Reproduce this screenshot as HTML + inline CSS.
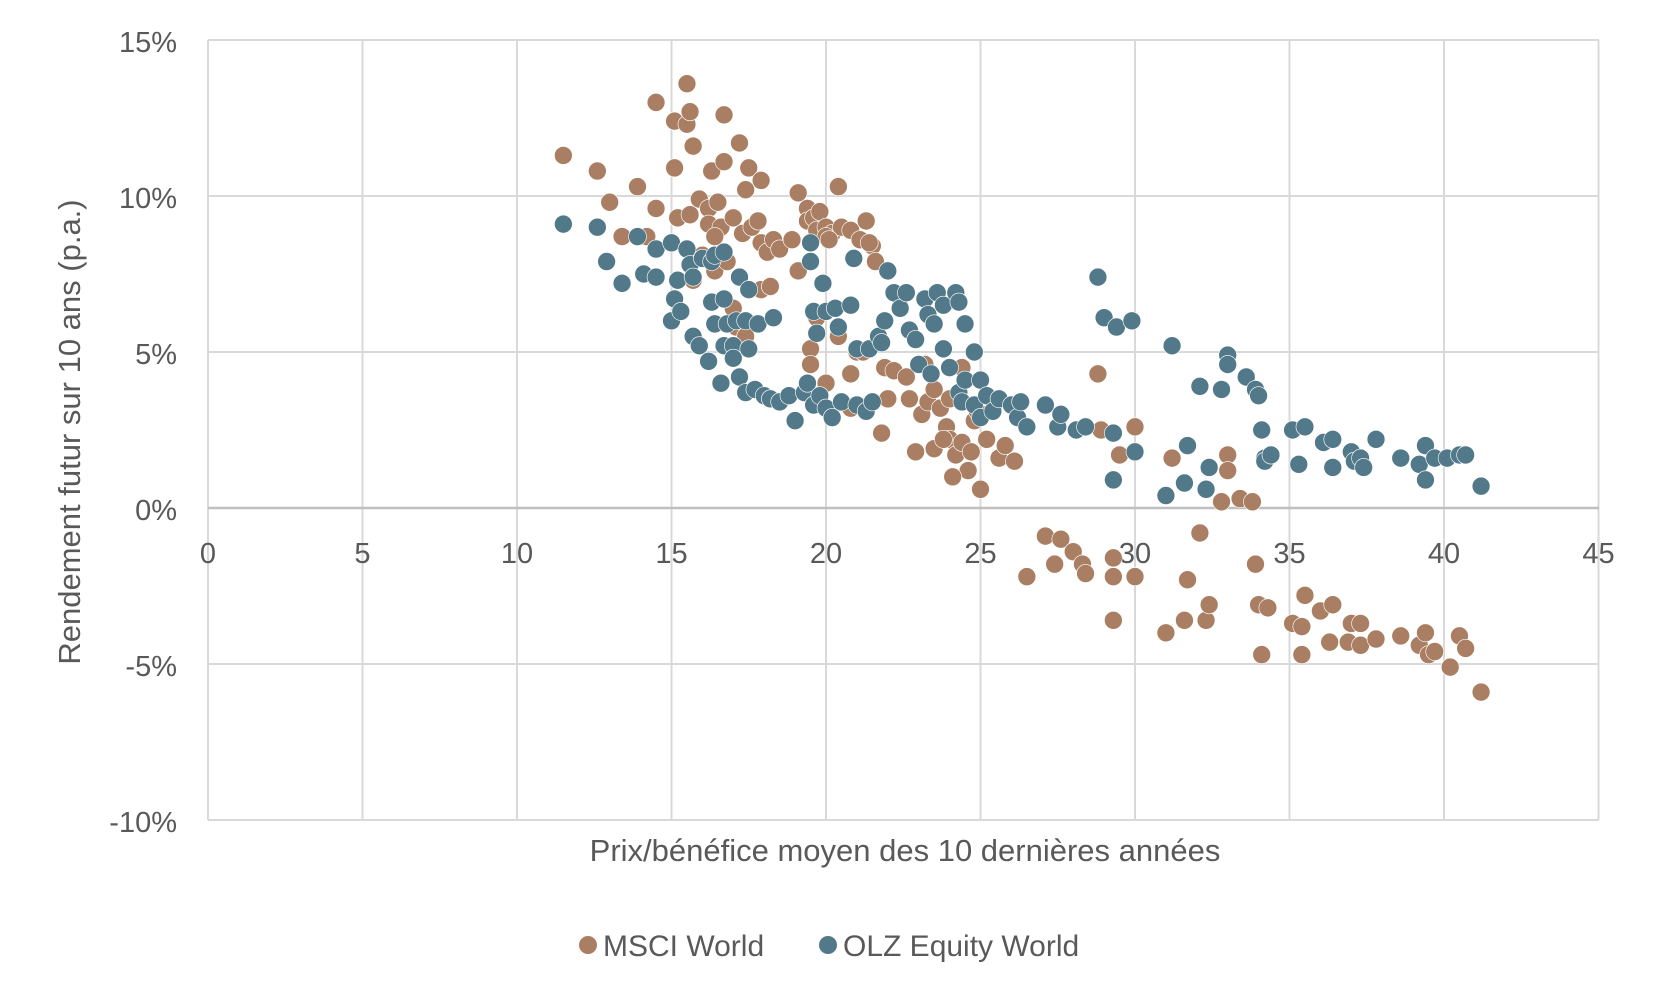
<!DOCTYPE html>
<html><head><meta charset="utf-8"><style>
html,body{margin:0;padding:0;background:#fff;}
svg{display:block;font-family:"Liberation Sans",sans-serif;}
.b circle{fill:#a97e62;stroke:#fff;stroke-width:0.02}
.t circle{fill:#527989;stroke:#fff;stroke-width:0.02}
</style></head><body>
<svg width="1656" height="996" viewBox="0 0 1656 996" xmlns="http://www.w3.org/2000/svg">
<g stroke="#d9d9d9" stroke-width="2">
<line x1="208" y1="40" x2="1599" y2="40"/><line x1="208" y1="196" x2="1599" y2="196"/><line x1="208" y1="352" x2="1599" y2="352"/><line x1="208" y1="664" x2="1599" y2="664"/><line x1="208" y1="820" x2="1599" y2="820"/>
<line x1="208" y1="40" x2="208" y2="820"/><line x1="362.5" y1="40" x2="362.5" y2="820"/><line x1="517" y1="40" x2="517" y2="820"/><line x1="671.5" y1="40" x2="671.5" y2="820"/><line x1="826" y1="40" x2="826" y2="820"/><line x1="980.5" y1="40" x2="980.5" y2="820"/><line x1="1135" y1="40" x2="1135" y2="820"/><line x1="1289.5" y1="40" x2="1289.5" y2="820"/><line x1="1444" y1="40" x2="1444" y2="820"/><line x1="1598.5" y1="40" x2="1598.5" y2="820"/>
</g>
<line x1="208" y1="508" x2="1599" y2="508" stroke="#bfbfbf" stroke-width="2.5"/>
<g fill="#595959" font-size="29" text-anchor="end">
<text x="177" y="52">15%</text><text x="177" y="208">10%</text><text x="177" y="364">5%</text><text x="177" y="520">0%</text><text x="177" y="676">-5%</text><text x="177" y="832">-10%</text>
</g>
<g fill="#595959" font-size="29" text-anchor="middle">
<text x="208" y="563">0</text><text x="362.5" y="563">5</text><text x="517" y="563">10</text><text x="671.5" y="563">15</text><text x="826" y="563">20</text><text x="980.5" y="563">25</text><text x="1135" y="563">30</text><text x="1289.5" y="563">35</text><text x="1444" y="563">40</text><text x="1598.5" y="563">45</text>
<text x="905" y="861" font-size="31">Prix/bénéfice moyen des 10 dernières années</text>
<text transform="translate(80,432) rotate(-90)" font-size="31">Rendement futur sur 10 ans (p.a.)</text>
</g>
<circle cx="588" cy="945" r="9" fill="#a97e62"/>
<text x="603" y="956" font-size="30" fill="#595959">MSCI World</text>
<circle cx="828" cy="945" r="9" fill="#527989"/>
<text x="843" y="956" font-size="30" fill="#595959">OLZ Equity World</text>
<g transform="translate(208,508) scale(30.9,-31.2)">
<g class="b">
<circle cx="11.5" cy="11.3" r=".29"/><circle cx="12.6" cy="10.8" r=".29"/><circle cx="13" cy="9.8" r=".29"/><circle cx="13.4" cy="8.7" r=".29"/><circle cx="13.9" cy="10.3" r=".29"/><circle cx="14.2" cy="8.7" r=".29"/><circle cx="14.5" cy="13" r=".29"/><circle cx="14.5" cy="9.6" r=".29"/><circle cx="15.1" cy="12.4" r=".29"/><circle cx="15.1" cy="10.9" r=".29"/><circle cx="15.5" cy="13.6" r=".29"/><circle cx="15.5" cy="12.3" r=".29"/><circle cx="15.6" cy="12.7" r=".29"/><circle cx="15.7" cy="11.6" r=".29"/><circle cx="16.7" cy="12.6" r=".29"/><circle cx="16.3" cy="10.8" r=".29"/><circle cx="16.7" cy="11.1" r=".29"/><circle cx="17.2" cy="11.7" r=".29"/><circle cx="17.4" cy="10.2" r=".29"/><circle cx="17.5" cy="10.9" r=".29"/><circle cx="17.9" cy="10.5" r=".29"/><circle cx="15.2" cy="9.3" r=".29"/><circle cx="15.6" cy="9.4" r=".29"/><circle cx="15.9" cy="9.9" r=".29"/><circle cx="16.2" cy="9.6" r=".29"/><circle cx="16.5" cy="9.8" r=".29"/><circle cx="16.2" cy="9.1" r=".29"/><circle cx="16.6" cy="9" r=".29"/><circle cx="17" cy="9.3" r=".29"/><circle cx="17.3" cy="8.8" r=".29"/><circle cx="17.6" cy="9" r=".29"/><circle cx="17.8" cy="9.2" r=".29"/><circle cx="17.9" cy="8.5" r=".29"/><circle cx="18.1" cy="8.2" r=".29"/><circle cx="18.3" cy="8.6" r=".29"/><circle cx="18.5" cy="8.3" r=".29"/><circle cx="18.9" cy="8.6" r=".29"/><circle cx="19.1" cy="10.1" r=".29"/><circle cx="19.4" cy="9.6" r=".29"/><circle cx="19.4" cy="9.2" r=".29"/><circle cx="19.6" cy="9.3" r=".29"/><circle cx="19.8" cy="9.5" r=".29"/><circle cx="19.7" cy="8.9" r=".29"/><circle cx="20" cy="9" r=".29"/><circle cx="20.2" cy="8.8" r=".29"/><circle cx="20.4" cy="10.3" r=".29"/><circle cx="20.5" cy="9" r=".29"/><circle cx="20.8" cy="8.9" r=".29"/><circle cx="21.1" cy="8.6" r=".29"/><circle cx="21.3" cy="9.2" r=".29"/><circle cx="21.5" cy="8.4" r=".29"/><circle cx="21.6" cy="7.9" r=".29"/><circle cx="21.4" cy="8.5" r=".29"/><circle cx="19.1" cy="7.6" r=".29"/><circle cx="20" cy="8.7" r=".29"/><circle cx="20.1" cy="8.6" r=".29"/><circle cx="19.7" cy="6.1" r=".29"/><circle cx="19.5" cy="5.1" r=".29"/><circle cx="19.5" cy="4.6" r=".29"/><circle cx="20.4" cy="5.5" r=".29"/><circle cx="20" cy="4" r=".29"/><circle cx="20.8" cy="4.3" r=".29"/><circle cx="21" cy="5" r=".29"/><circle cx="21.2" cy="5" r=".29"/><circle cx="21.9" cy="4.5" r=".29"/><circle cx="22" cy="3.5" r=".29"/><circle cx="22.2" cy="4.4" r=".29"/><circle cx="21.8" cy="2.4" r=".29"/><circle cx="20.8" cy="3.2" r=".29"/><circle cx="22.6" cy="4.2" r=".29"/><circle cx="22.7" cy="3.5" r=".29"/><circle cx="22.9" cy="1.8" r=".29"/><circle cx="23.1" cy="3" r=".29"/><circle cx="23.3" cy="3.4" r=".29"/><circle cx="23.5" cy="3.8" r=".29"/><circle cx="23.7" cy="3.2" r=".29"/><circle cx="23.9" cy="2.6" r=".29"/><circle cx="24" cy="2.2" r=".29"/><circle cx="24.2" cy="1.7" r=".29"/><circle cx="24.4" cy="2.1" r=".29"/><circle cx="24.6" cy="1.2" r=".29"/><circle cx="24.7" cy="1.8" r=".29"/><circle cx="24.8" cy="2.8" r=".29"/><circle cx="24.9" cy="3.1" r=".29"/><circle cx="25" cy="0.6" r=".29"/><circle cx="25.2" cy="2.2" r=".29"/><circle cx="25.6" cy="1.6" r=".29"/><circle cx="25.8" cy="2" r=".29"/><circle cx="26.1" cy="1.5" r=".29"/><circle cx="25.5" cy="3.4" r=".29"/><circle cx="24.1" cy="1" r=".29"/><circle cx="16" cy="8.1" r=".29"/><circle cx="16.4" cy="8.7" r=".29"/><circle cx="16.4" cy="7.6" r=".29"/><circle cx="15.7" cy="7.3" r=".29"/><circle cx="16.8" cy="7.9" r=".29"/><circle cx="17" cy="6.4" r=".29"/><circle cx="17.1" cy="5.8" r=".29"/><circle cx="17.9" cy="7" r=".29"/><circle cx="18.2" cy="7.1" r=".29"/><circle cx="17.4" cy="5.5" r=".29"/><circle cx="23.5" cy="1.9" r=".29"/><circle cx="23.8" cy="2.2" r=".29"/><circle cx="24.4" cy="4.5" r=".29"/><circle cx="23.2" cy="4.6" r=".29"/><circle cx="24" cy="3.5" r=".29"/><circle cx="26.5" cy="-2.2" r=".29"/><circle cx="27.1" cy="-0.9" r=".29"/><circle cx="27.4" cy="-1.8" r=".29"/><circle cx="27.6" cy="-1" r=".29"/><circle cx="28" cy="-1.4" r=".29"/><circle cx="28.3" cy="-1.8" r=".29"/><circle cx="28.4" cy="-2.1" r=".29"/><circle cx="28.8" cy="4.3" r=".29"/><circle cx="28.9" cy="2.5" r=".29"/><circle cx="29.3" cy="-1.6" r=".29"/><circle cx="29.3" cy="-2.2" r=".29"/><circle cx="29.3" cy="-3.6" r=".29"/><circle cx="29.5" cy="1.7" r=".29"/><circle cx="30" cy="2.6" r=".29"/><circle cx="30" cy="-2.2" r=".29"/><circle cx="31" cy="-4" r=".29"/><circle cx="31.2" cy="1.6" r=".29"/><circle cx="31.6" cy="-3.6" r=".29"/><circle cx="31.7" cy="-2.3" r=".29"/><circle cx="32.1" cy="-0.8" r=".29"/><circle cx="32.3" cy="-3.6" r=".29"/><circle cx="32.4" cy="-3.1" r=".29"/><circle cx="32.8" cy="0.2" r=".29"/><circle cx="33" cy="1.7" r=".29"/><circle cx="33" cy="1.2" r=".29"/><circle cx="33.4" cy="0.3" r=".29"/><circle cx="33.8" cy="0.2" r=".29"/><circle cx="33.9" cy="-1.8" r=".29"/><circle cx="34" cy="-3.1" r=".29"/><circle cx="34.1" cy="-4.7" r=".29"/><circle cx="34.3" cy="-3.2" r=".29"/><circle cx="35.1" cy="-3.7" r=".29"/><circle cx="35.4" cy="-3.8" r=".29"/><circle cx="35.5" cy="-2.8" r=".29"/><circle cx="35.4" cy="-4.7" r=".29"/><circle cx="36" cy="-3.3" r=".29"/><circle cx="36.3" cy="-4.3" r=".29"/><circle cx="36.4" cy="-3.1" r=".29"/><circle cx="36.9" cy="-4.3" r=".29"/><circle cx="37" cy="-3.7" r=".29"/><circle cx="37.3" cy="-3.7" r=".29"/><circle cx="37.3" cy="-4.4" r=".29"/><circle cx="37.8" cy="-4.2" r=".29"/><circle cx="38.6" cy="-4.1" r=".29"/><circle cx="39.2" cy="-4.4" r=".29"/><circle cx="39.4" cy="-4" r=".29"/><circle cx="39.5" cy="-4.7" r=".29"/><circle cx="39.7" cy="-4.6" r=".29"/><circle cx="40.2" cy="-5.1" r=".29"/><circle cx="40.5" cy="-4.1" r=".29"/><circle cx="40.7" cy="-4.5" r=".29"/><circle cx="41.2" cy="-5.9" r=".29"/>
</g>
<g class="t">
<circle cx="11.5" cy="9.1" r=".29"/><circle cx="12.6" cy="9" r=".29"/><circle cx="12.9" cy="7.9" r=".29"/><circle cx="13.4" cy="7.2" r=".29"/><circle cx="13.9" cy="8.7" r=".29"/><circle cx="14.1" cy="7.5" r=".29"/><circle cx="14.5" cy="8.3" r=".29"/><circle cx="14.5" cy="7.4" r=".29"/><circle cx="15" cy="8.5" r=".29"/><circle cx="15" cy="6" r=".29"/><circle cx="15.1" cy="6.7" r=".29"/><circle cx="15.2" cy="7.3" r=".29"/><circle cx="15.3" cy="6.3" r=".29"/><circle cx="15.5" cy="8.3" r=".29"/><circle cx="15.6" cy="7.8" r=".29"/><circle cx="15.7" cy="7.4" r=".29"/><circle cx="15.7" cy="5.5" r=".29"/><circle cx="15.9" cy="5.2" r=".29"/><circle cx="16" cy="8" r=".29"/><circle cx="16.2" cy="4.7" r=".29"/><circle cx="16.3" cy="7.9" r=".29"/><circle cx="16.3" cy="6.6" r=".29"/><circle cx="16.4" cy="8.1" r=".29"/><circle cx="16.4" cy="5.9" r=".29"/><circle cx="16.6" cy="4" r=".29"/><circle cx="16.7" cy="8.2" r=".29"/><circle cx="16.7" cy="6.7" r=".29"/><circle cx="16.8" cy="5.9" r=".29"/><circle cx="16.7" cy="5.2" r=".29"/><circle cx="17" cy="5.2" r=".29"/><circle cx="17" cy="4.8" r=".29"/><circle cx="17.1" cy="6" r=".29"/><circle cx="17.2" cy="7.4" r=".29"/><circle cx="17.2" cy="4.2" r=".29"/><circle cx="17.4" cy="6" r=".29"/><circle cx="17.5" cy="7" r=".29"/><circle cx="17.5" cy="5.1" r=".29"/><circle cx="17.8" cy="5.9" r=".29"/><circle cx="17.4" cy="3.7" r=".29"/><circle cx="17.7" cy="3.8" r=".29"/><circle cx="18" cy="3.6" r=".29"/><circle cx="18.2" cy="3.5" r=".29"/><circle cx="18.3" cy="6.1" r=".29"/><circle cx="18.5" cy="3.4" r=".29"/><circle cx="18.8" cy="3.6" r=".29"/><circle cx="19" cy="2.8" r=".29"/><circle cx="19.3" cy="3.7" r=".29"/><circle cx="19.4" cy="4" r=".29"/><circle cx="19.5" cy="8.5" r=".29"/><circle cx="19.5" cy="7.9" r=".29"/><circle cx="19.6" cy="3.3" r=".29"/><circle cx="19.6" cy="6.3" r=".29"/><circle cx="19.7" cy="5.6" r=".29"/><circle cx="19.8" cy="3.6" r=".29"/><circle cx="19.9" cy="7.2" r=".29"/><circle cx="20" cy="6.3" r=".29"/><circle cx="20" cy="3.2" r=".29"/><circle cx="20.2" cy="2.9" r=".29"/><circle cx="20.3" cy="6.4" r=".29"/><circle cx="20.4" cy="5.8" r=".29"/><circle cx="20.5" cy="3.4" r=".29"/><circle cx="20.8" cy="6.5" r=".29"/><circle cx="20.9" cy="8" r=".29"/><circle cx="21" cy="5.1" r=".29"/><circle cx="21" cy="3.3" r=".29"/><circle cx="21.3" cy="3.1" r=".29"/><circle cx="21.4" cy="5.1" r=".29"/><circle cx="21.5" cy="3.4" r=".29"/><circle cx="21.7" cy="5.5" r=".29"/><circle cx="21.8" cy="5.3" r=".29"/><circle cx="21.9" cy="6" r=".29"/><circle cx="22" cy="7.6" r=".29"/><circle cx="22.2" cy="6.9" r=".29"/><circle cx="22.4" cy="6.4" r=".29"/><circle cx="22.6" cy="6.9" r=".29"/><circle cx="22.7" cy="5.7" r=".29"/><circle cx="22.9" cy="5.4" r=".29"/><circle cx="23" cy="4.6" r=".29"/><circle cx="23.2" cy="6.7" r=".29"/><circle cx="23.3" cy="6.2" r=".29"/><circle cx="23.4" cy="4.3" r=".29"/><circle cx="23.5" cy="5.9" r=".29"/><circle cx="23.6" cy="6.9" r=".29"/><circle cx="23.8" cy="6.5" r=".29"/><circle cx="23.8" cy="5.1" r=".29"/><circle cx="24" cy="4.5" r=".29"/><circle cx="24.2" cy="6.9" r=".29"/><circle cx="24.3" cy="6.6" r=".29"/><circle cx="24.3" cy="3.7" r=".29"/><circle cx="24.4" cy="3.4" r=".29"/><circle cx="24.5" cy="5.9" r=".29"/><circle cx="24.5" cy="4.1" r=".29"/><circle cx="24.8" cy="5" r=".29"/><circle cx="24.8" cy="3.3" r=".29"/><circle cx="25" cy="4.1" r=".29"/><circle cx="25" cy="2.9" r=".29"/><circle cx="25.2" cy="3.6" r=".29"/><circle cx="25.4" cy="3.1" r=".29"/><circle cx="25.6" cy="3.5" r=".29"/><circle cx="26" cy="3.3" r=".29"/><circle cx="26.2" cy="2.9" r=".29"/><circle cx="26.3" cy="3.4" r=".29"/><circle cx="26.5" cy="2.6" r=".29"/><circle cx="27.1" cy="3.3" r=".29"/><circle cx="27.5" cy="2.6" r=".29"/><circle cx="27.6" cy="3" r=".29"/><circle cx="28.1" cy="2.5" r=".29"/><circle cx="28.4" cy="2.6" r=".29"/><circle cx="28.8" cy="7.4" r=".29"/><circle cx="29" cy="6.1" r=".29"/><circle cx="29.4" cy="5.8" r=".29"/><circle cx="29.3" cy="2.4" r=".29"/><circle cx="29.3" cy="0.9" r=".29"/><circle cx="29.9" cy="6" r=".29"/><circle cx="30" cy="1.8" r=".29"/><circle cx="31" cy="0.4" r=".29"/><circle cx="31.2" cy="5.2" r=".29"/><circle cx="31.6" cy="0.8" r=".29"/><circle cx="31.7" cy="2" r=".29"/><circle cx="32.1" cy="3.9" r=".29"/><circle cx="32.3" cy="0.6" r=".29"/><circle cx="32.4" cy="1.3" r=".29"/><circle cx="32.8" cy="3.8" r=".29"/><circle cx="33" cy="4.9" r=".29"/><circle cx="33" cy="4.6" r=".29"/><circle cx="33.6" cy="4.2" r=".29"/><circle cx="33.9" cy="3.8" r=".29"/><circle cx="34" cy="3.6" r=".29"/><circle cx="34.1" cy="2.5" r=".29"/><circle cx="34.2" cy="1.6" r=".29"/><circle cx="34.2" cy="1.5" r=".29"/><circle cx="34.4" cy="1.7" r=".29"/><circle cx="35.1" cy="2.5" r=".29"/><circle cx="35.3" cy="1.4" r=".29"/><circle cx="35.5" cy="2.6" r=".29"/><circle cx="36.1" cy="2.1" r=".29"/><circle cx="36.4" cy="2.2" r=".29"/><circle cx="36.4" cy="1.3" r=".29"/><circle cx="37" cy="1.8" r=".29"/><circle cx="37.1" cy="1.5" r=".29"/><circle cx="37.3" cy="1.6" r=".29"/><circle cx="37.4" cy="1.3" r=".29"/><circle cx="37.8" cy="2.2" r=".29"/><circle cx="38.6" cy="1.6" r=".29"/><circle cx="39.2" cy="1.4" r=".29"/><circle cx="39.4" cy="2" r=".29"/><circle cx="39.4" cy="0.9" r=".29"/><circle cx="39.7" cy="1.6" r=".29"/><circle cx="40.1" cy="1.6" r=".29"/><circle cx="40.5" cy="1.7" r=".29"/><circle cx="40.7" cy="1.7" r=".29"/><circle cx="41.2" cy="0.7" r=".29"/>
</g>
</g>
</svg>
</body></html>
